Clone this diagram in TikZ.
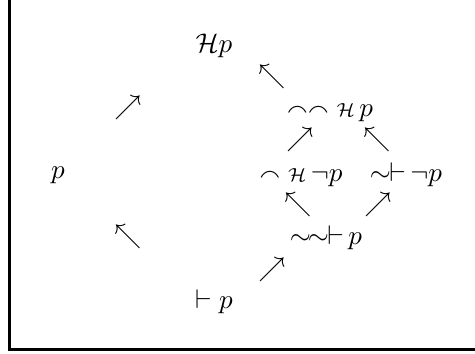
\documentclass[tikz,border=0pt]{standalone}
\usepackage{amssymb}
\begin{document}
\begin{tikzpicture}[x=0.37pt,y=-0.37pt,
  lbl/.style={inner sep=0pt,anchor=center},
  glyph/.style={inner sep=0pt,anchor=center},
  frameline/.style={line width=1.1pt}]
\useasboundingbox (0,0) rectangle (475,353);
\draw[frameline] (9.5,0) -- (9.5,349.5) -- (475,349.5);
\node[lbl] (Hp) at (214,46) {$\mathcal{H}p$};
\node[glyph] (a1) at (272,77) {$\nwarrow$};
\node[lbl] (ffHp) at (330,110) {$\mathord{\smallfrown}\mathord{\smallfrown}\;{\scriptstyle\mathcal{H}}\,p$};
\node[glyph] (a2) at (128,108) {$\nearrow$};
\node[glyph] (a3) at (300,140) {$\nearrow$};
\node[glyph] (a4) at (377,140) {$\nwarrow$};
\node[lbl] (p) at (58,175) {$p$};
\node[lbl] (fHnp) at (301,175) {$\mathord{\smallfrown}\;{\scriptstyle\mathcal{H}}\,\neg p$};
\node[lbl] (snp) at (406,175) {$\mathord{\sim}\mkern-1mu\mathord{\vdash}\,\neg p$};
\node[glyph] (a5) at (128,237) {$\nwarrow$};
\node[glyph] (a6) at (298,205) {$\nwarrow$};
\node[glyph] (a7) at (378,205) {$\nearrow$};
\node[lbl] (ssp) at (326,238) {$\mathord{\sim}\mkern-2mu\mathord{\sim}\mkern-1mu\mathord{\vdash}\,p$};
\node[glyph] (a8) at (272,270) {$\nearrow$};
\node[lbl] (vp) at (214,302) {$\vdash p$};
\end{tikzpicture}
\end{document}
